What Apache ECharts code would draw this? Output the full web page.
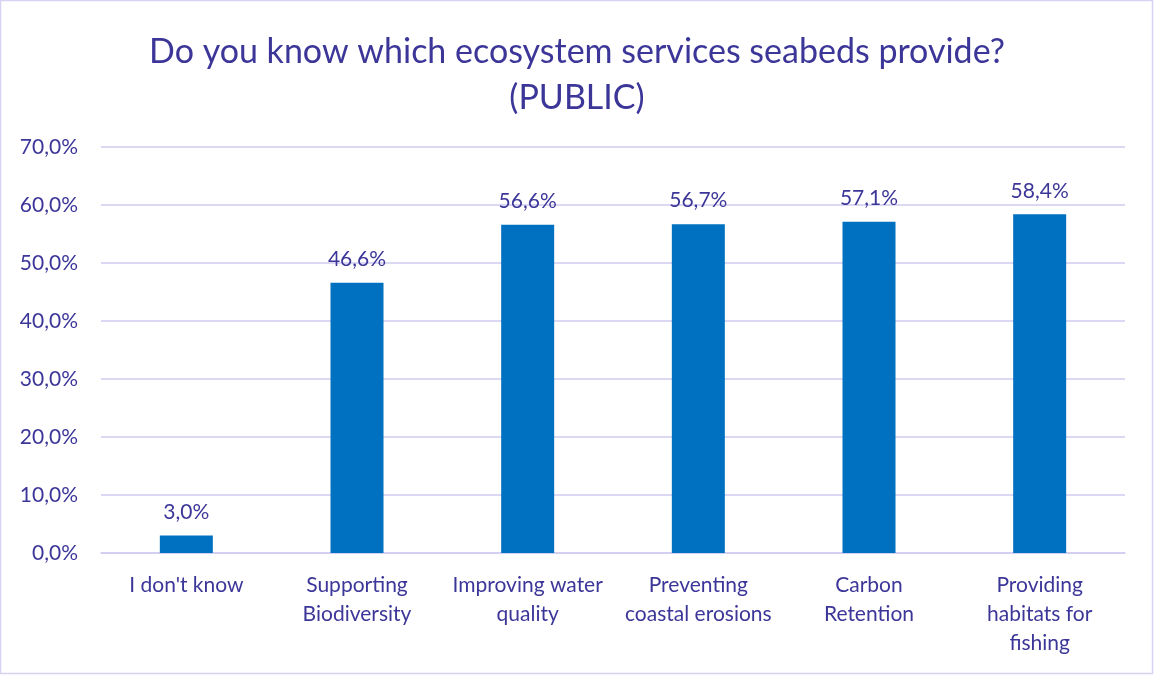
<!DOCTYPE html>
<html>
<head>
<meta charset="utf-8">
<script src="https://cdn.jsdelivr.net/npm/echarts@6/dist/echarts.min.js"></script>
<style>
  html, body { margin: 0; padding: 0; background: #ffffff; }
  #chart { width: 1154px; height: 675px; }
</style>
</head>
<body>
<div id="chart"></div>
<script>
// Survey answers: which ecosystem services seabeds provide (public respondents)
const categories = [
  "I don't know",
  "Supporting\nBiodiversity",
  "Improving water\nquality",
  "Preventing\ncoastal erosions",
  "Carbon\nRetention",
  "Providing\nhabitats for\nfishing"
];
const shares = [3.0, 46.6, 56.6, 56.7, 57.1, 58.4];
const yTicks = { min: 0, max: 70, step: 10 };

const textColor = '#3c3699';
const fontFamily = 'Lato, "Open Sans", "Noto Sans", sans-serif';
const pct = v => v.toFixed(1).replace('.', ',') + '%';

const chart = echarts.init(document.getElementById('chart'), null, { renderer: 'canvas' });
chart.setOption({
  backgroundColor: '#ffffff',
  animation: false,
  textStyle: { fontFamily: fontFamily },
  title: {
    text: 'Do you know which ecosystem services seabeds provide?\n(PUBLIC)',
    left: 'center',
    top: 24,
    textStyle: {
      color: textColor,
      fontSize: 34,
      fontWeight: 'normal',
      lineHeight: 46,
      fontFamily: fontFamily
    }
  },
  graphic: [{
    type: 'rect',
    shape: { x: 0.5, y: 0.5, width: 1152, height: 673 },
    style: { fill: 'none', stroke: '#d6d2f2', lineWidth: 1.5 },
    silent: true
  }],
  grid: { left: 101, right: 29, top: 147, bottom: 122, containLabel: false },
  xAxis: {
    type: 'category',
    data: categories,
    axisLine: { show: true, lineStyle: { color: '#cfcbef', width: 1.5 } },
    axisTick: { show: false },
    axisLabel: {
      color: textColor,
      fontSize: 21,
      lineHeight: 29,
      margin: 18,
      interval: 0,
      fontFamily: fontFamily
    }
  },
  yAxis: {
    type: 'value',
    min: yTicks.min,
    max: yTicks.max,
    interval: yTicks.step,
    axisLine: { show: false },
    axisTick: { show: false },
    splitLine: { lineStyle: { color: '#cfcbef', width: 1.5 } },
    axisLabel: {
      color: textColor,
      fontSize: 21,
      margin: 23,
      formatter: pct,
      fontFamily: fontFamily
    }
  },
  series: [{
    type: 'bar',
    data: shares,
    barWidth: 53,
    itemStyle: { color: '#0070c0' },
    label: {
      show: true,
      position: 'top',
      distance: 13,
      color: textColor,
      fontSize: 21,
      formatter: p => pct(p.value),
      fontFamily: fontFamily
    }
  }]
});
</script>
</body>
</html>
